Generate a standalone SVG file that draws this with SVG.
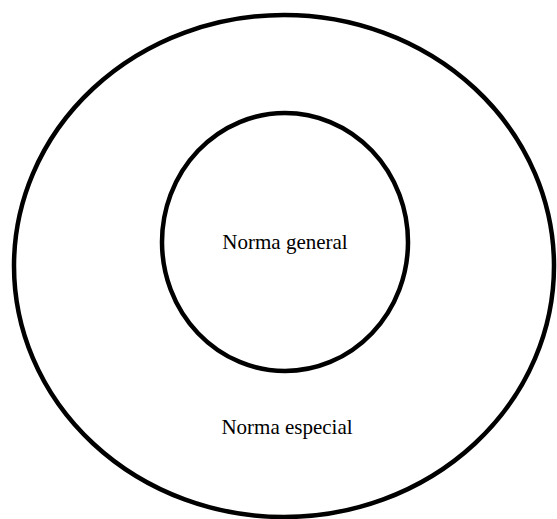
<svg xmlns="http://www.w3.org/2000/svg" width="557" height="519" viewBox="0 0 557 519">
<style>
.ring{fill:none;stroke:#000;stroke-width:4.5}
.lbl{font-family:"Liberation Serif","Times New Roman",serif;font-size:21px;fill:#000;text-anchor:middle}
</style>
<rect width="557" height="519" fill="#fff"/>
<g id="norma-especial">
<ellipse class="ring" cx="284" cy="266" rx="270" ry="251"/>
<text class="lbl" x="287" y="434">Norma especial</text>
</g>
<g id="norma-general">
<ellipse class="ring" cx="285" cy="242" rx="123" ry="129"/>
<text class="lbl" x="285" y="249">Norma general</text>
</g>
<g id="connectors"></g>
</svg>
